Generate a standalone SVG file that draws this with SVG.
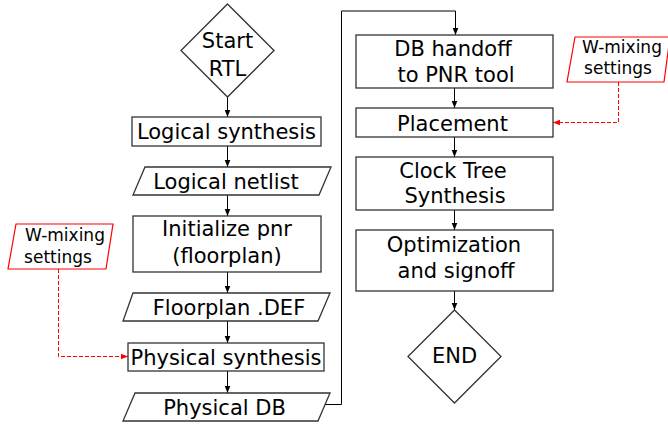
<svg xmlns="http://www.w3.org/2000/svg" width="668" height="424" viewBox="0 0 668 424">
  <style>
    .shape { fill: #ffffff; stroke: #333333; stroke-width: 1.3; }
    .input { fill: #ffffff; stroke: #ff0000; stroke-width: 1.2; }
    .label { font-family: "DejaVu Sans", Verdana, sans-serif; font-size: 21px; fill: #000000; text-anchor: middle; }
    .small { font-family: "DejaVu Sans", Verdana, sans-serif; font-size: 17px; fill: #000000; text-anchor: middle; }
    .flow { fill: none; stroke: #000000; stroke-width: 1; }
    .cfg { fill: none; stroke: #ff0000; stroke-width: 1; stroke-dasharray: 4 2; }
  </style>
  <defs>
    <marker id="arrow" viewBox="0 0 10 10" refX="10" refY="5" markerWidth="7" markerHeight="7" orient="auto" markerUnits="userSpaceOnUse">
      <path d="M0,1 L10,5 L0,9 Z" fill="#000000"/>
    </marker>
    <marker id="arrowRed" viewBox="0 0 10 10" refX="10" refY="5" markerWidth="7" markerHeight="7" orient="auto" markerUnits="userSpaceOnUse">
      <path d="M0,1 L10,5 L0,9 Z" fill="#ff0000"/>
    </marker>
  </defs>
  <rect width="668" height="424" fill="#ffffff"/>

  <!-- connectors -->
  <g id="connectors">
    <line class="flow" x1="227.5" y1="97" x2="227.5" y2="117" marker-end="url(#arrow)"/>
    <line class="flow" x1="227.5" y1="146" x2="227.5" y2="167" marker-end="url(#arrow)"/>
    <line class="flow" x1="227.5" y1="195" x2="227.5" y2="216" marker-end="url(#arrow)"/>
    <line class="flow" x1="227.5" y1="272" x2="227.5" y2="293" marker-end="url(#arrow)"/>
    <line class="flow" x1="227.5" y1="321" x2="227.5" y2="343" marker-end="url(#arrow)"/>
    <line class="flow" x1="227.5" y1="371" x2="227.5" y2="393" marker-end="url(#arrow)"/>
    <polyline class="flow" stroke="#333333" points="324,404.5 341.5,404.5 341.5,11 455.5,11 455.5,35" marker-end="url(#arrow)"/>
    <line class="flow" x1="454.5" y1="88" x2="454.5" y2="108" marker-end="url(#arrow)"/>
    <line class="flow" x1="454.5" y1="137" x2="454.5" y2="157" marker-end="url(#arrow)"/>
    <line class="flow" x1="454.5" y1="210" x2="454.5" y2="230" marker-end="url(#arrow)"/>
    <line class="flow" x1="454.5" y1="291" x2="454.5" y2="310" marker-end="url(#arrow)"/>
    <polyline class="cfg" points="58.5,269 58.5,356.5 128,356.5" marker-end="url(#arrowRed)"/>
    <polyline class="cfg" points="618.5,82 618.5,122.5 553,122.5" marker-end="url(#arrowRed)"/>
  </g>

  <g id="start">
    <polygon class="shape" points="227.5,4 274,50.5 227.5,97 181,50.5"/>
    <text class="label" x="227.5" y="48">Start</text>
    <text class="label" x="227.5" y="76">RTL</text>
  </g>

  <g id="logical-synthesis">
    <rect class="shape" x="132" y="117" width="189" height="29"/>
    <text class="label" x="226.5" y="139">Logical synthesis</text>
  </g>

  <g id="logical-netlist">
    <polygon class="shape" points="145,167 331,167 319,195 133,195"/>
    <text class="label" x="226" y="189">Logical netlist</text>
  </g>

  <g id="initialize-pnr">
    <rect class="shape" x="133" y="216" width="188" height="56"/>
    <text class="label" x="227" y="236">Initialize pnr</text>
    <text class="label" x="227" y="263">(floorplan)</text>
  </g>

  <g id="w-mixing-left">
    <polygon class="input" points="16,224 113,224 106,269 8,269"/>
    <text class="small" x="65" y="241">W-mixing</text>
    <text class="small" x="58" y="263">settings</text>
  </g>

  <g id="floorplan-def">
    <polygon class="shape" points="133,293 330,293 318,321 123,321"/>
    <text class="label" x="229" y="315">Floorplan .DEF</text>
  </g>

  <g id="physical-synthesis">
    <rect class="shape" x="128" y="343" width="196" height="28"/>
    <text class="label" x="226" y="365">Physical synthesis</text>
  </g>

  <g id="physical-db">
    <polygon class="shape" points="135,393 330,393 318,421 123,421"/>
    <text class="label" x="224.5" y="415">Physical DB</text>
  </g>

  <g id="db-handoff">
    <rect class="shape" x="356" y="35" width="197" height="53"/>
    <text class="label" x="453" y="56">DB handoff</text>
    <text class="label" x="456" y="82">to PNR tool</text>
  </g>

  <g id="w-mixing-right">
    <polygon class="input" points="575,37 670,37 664,82 567,82"/>
    <text class="small" x="622" y="53">W-mixing</text>
    <text class="small" x="618" y="74">settings</text>
  </g>

  <g id="placement">
    <rect class="shape" x="356" y="108" width="197" height="29"/>
    <text class="label" x="452.5" y="131">Placement</text>
  </g>

  <g id="clock-tree-synthesis">
    <rect class="shape" x="356" y="157" width="197" height="53"/>
    <text class="label" x="453" y="178">Clock Tree</text>
    <text class="label" x="455" y="203">Synthesis</text>
  </g>

  <g id="optimization">
    <rect class="shape" x="356" y="230" width="197" height="61"/>
    <text class="label" x="454" y="252">Optimization</text>
    <text class="label" x="456" y="278">and signoff</text>
  </g>

  <g id="end">
    <polygon class="shape" points="454.5,310 501,356.5 454.5,403 408,356.5"/>
    <text class="label" x="454.5" y="363">END</text>
  </g>
</svg>
